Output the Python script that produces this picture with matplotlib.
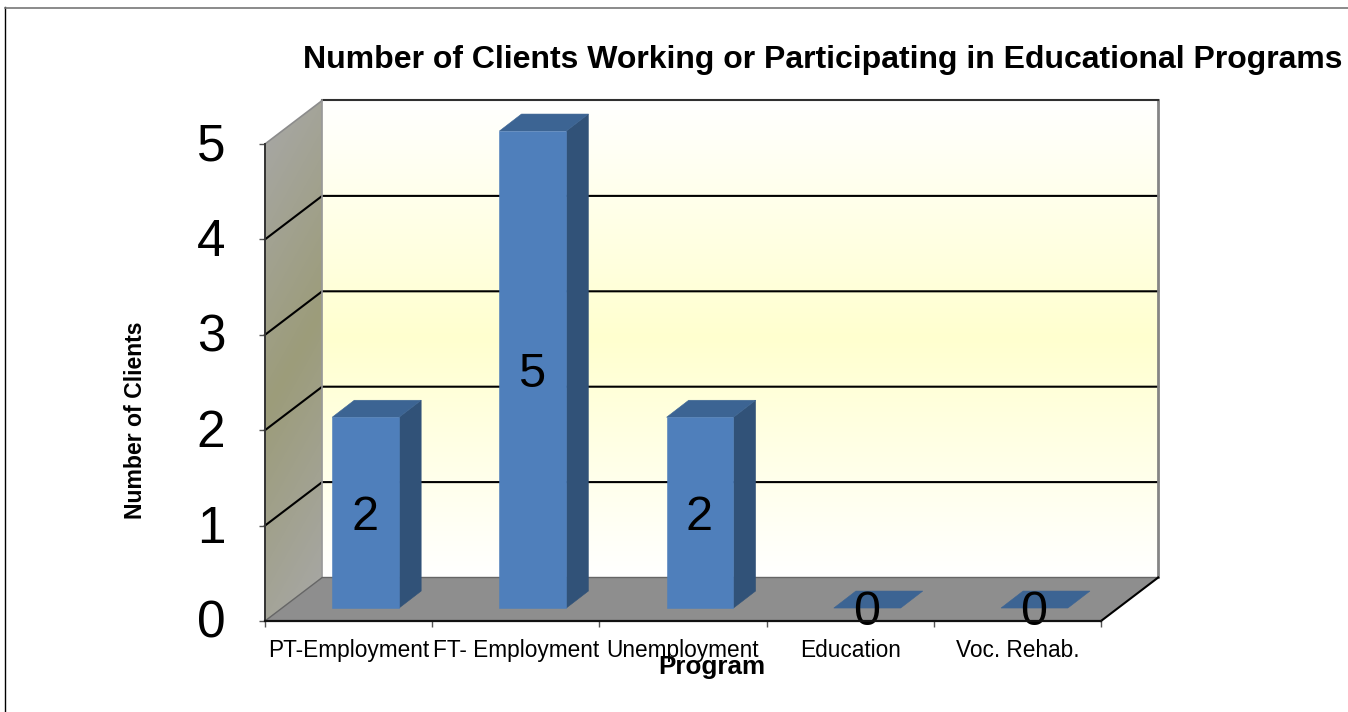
"""
Clients by program, drawn as a column chart with a 3D box look
"""

import numpy as np
import matplotlib.pyplot as plt
from matplotlib.colors import LinearSegmentedColormap
from matplotlib.patches import Polygon
from matplotlib.transforms import ScaledTranslation

programs = ['PT-Employment', 'FT- Employment', 'Unemployment', 'Education', 'Voc. Rehab.']
clients = [2, 5, 2, 0, 0]
y_ticks = [0, 1, 2, 3, 4, 5]

W, H = 1348, 712

# depth of the box and of the columns, in data units
BOX_DX, BOX_DY = 0.342, 0.456
BAR_DX, BAR_DY = 0.132, 0.178
BAR_SHIFT_X, BAR_SHIFT_Y = 0.102, 0.136
BAR_W = 0.40

plt.rcParams['font.family'] = ['Liberation Sans', 'DejaVu Sans']

fig = plt.figure(figsize=(W / 100, H / 100), dpi=100)
ax = fig.add_axes([265 / W, 1 - 621 / H, 836 / W, 477 / H])
ax.set_facecolor('none')


def fill(points, color, z):
    ax.add_patch(Polygon(points, closed=True, facecolor=color, edgecolor=color,
                         linewidth=0.4, zorder=z, clip_on=False))


def gradient(colors, extent, z, clip=None, diagonal=False):
    cmap = LinearSegmentedColormap.from_list('g', colors)
    t = np.linspace(0, 1, 256)
    img = t[:, None]
    if diagonal:
        img = np.add.outer(t, t * 0.2) / 1.2
    im = ax.imshow(img, cmap=cmap, vmin=0, vmax=1, extent=extent, origin='upper',
                   aspect='auto', zorder=z, interpolation='bilinear')
    im.set_clip_on(False)
    if clip is not None:
        # images fall back to the axes box when they have no clip box of their own
        im.set_clip_on(True)
        im.set_clip_box(fig.bbox)
        im.set_clip_path(Polygon(clip, closed=True, transform=ax.transData))


n = len(programs)
top = y_ticks[-1]

# back wall
gradient(['#ffffff', '#ffffcf', '#ffffff'],
         [BOX_DX, n + BOX_DX, BOX_DY, top + BOX_DY], 1)

# left wall
side = [(0, 0), (BOX_DX, BOX_DY), (BOX_DX, top + BOX_DY), (0, top)]
gradient(['#a8a8a8', '#9c9c7a', '#a8a8a8'], [0, BOX_DX, 0, top + BOX_DY], 1,
         clip=side, diagonal=True)

# floor
fill([(0, 0), (n, 0), (n + BOX_DX, BOX_DY), (BOX_DX, BOX_DY)], '#8e8e8e', 2)

# gridlines run along the side wall and then across the back
for v in y_ticks[1:-1]:
    ax.plot([0, BOX_DX, n + BOX_DX], [v, v + BOX_DY, v + BOX_DY], color='black',
            lw=1.5, zorder=3, clip_on=False, solid_joinstyle='miter')

# box outline
ax.plot([0, BOX_DX], [top, top + BOX_DY], color='#8c8c8c', lw=1.2, zorder=3, clip_on=False)
ax.plot([n + BOX_DX, n + BOX_DX], [BOX_DY, top + BOX_DY], color='#858585', lw=2,
        zorder=3, clip_on=False)
ax.plot([BOX_DX, n + BOX_DX], [top + BOX_DY, top + BOX_DY], color='#303030', lw=1.5,
        zorder=3, clip_on=False)
ax.plot([BOX_DX, BOX_DX], [BOX_DY, top + BOX_DY], color='#999999', lw=1.2, zorder=3,
        clip_on=False)
ax.plot([0, BOX_DX, n + BOX_DX], [0, BOX_DY, BOX_DY], color='#666666', lw=1, zorder=3,
        clip_on=False)
ax.plot([n, n + BOX_DX], [0, BOX_DY], color='black', lw=1.5, zorder=3, clip_on=False)

# columns
for i, v in enumerate(clients):
    x0 = i + 0.5 - BAR_W / 2 + BAR_SHIFT_X
    x1 = x0 + BAR_W
    y0 = BAR_SHIFT_Y
    y1 = y0 + v
    if v > 0:
        fill([(x1, y0), (x1 + BAR_DX, y0 + BAR_DY), (x1 + BAR_DX, y1 + BAR_DY), (x1, y1)],
             '#315278', 4)
        fill([(x0, y0), (x1, y0), (x1, y1), (x0, y1)], '#4f7fbb', 5)
    fill([(x0, y1), (x1, y1), (x1 + BAR_DX, y1 + BAR_DY), (x0 + BAR_DX, y1 + BAR_DY)],
         '#3c6493', 4)
    ax.annotate(str(v), ((x0 + x1) / 2, (y0 + y1) / 2), xytext=(-0.7, -3.5),
                textcoords='offset points', ha='center', va='center', fontsize=35,
                color='black', zorder=6, annotation_clip=False)

ax.set_xlim(0, n)
ax.set_ylim(0, top)

for s in ['top', 'right']:
    ax.spines[s].set_visible(False)
for s in ['left', 'bottom']:
    ax.spines[s].set_zorder(7)
ax.spines['left'].set_linewidth(1.4)
ax.spines['left'].set_color('#333333')
ax.spines['bottom'].set_linewidth(1.6)
ax.spines['bottom'].set_color('#111111')

ax.set_yticks(y_ticks)
ax.tick_params(axis='y', labelsize=37, length=4.5, width=1, color='#555555', pad=24)
# nudge the value labels up a little
for label in ax.get_yticklabels():
    label.set_transform(label.get_transform() + ScaledTranslation(0, 1.5 / 72, fig.dpi_scale_trans))
ax.set_xticks(np.arange(n + 1))
ax.set_xticklabels([])
ax.set_xticks(np.arange(n) + 0.5, minor=True)
ax.set_xticklabels(programs, minor=True, fontsize=16.3)
ax.tick_params(axis='x', which='major', length=4.5, width=1, color='#555555')
ax.tick_params(axis='x', which='minor', length=0, pad=13)

fig.text(823 / W, 1 - 60 / H, 'Number of Clients Working or Participating in Educational Programs',
         ha='center', va='center', fontsize=23, fontweight='bold')
fig.text(712 / W, 1 - 667 / H, 'Program', ha='center', va='center', fontsize=18.7, fontweight='bold')
fig.text(135 / W, 1 - 420 / H, 'Number of Clients', ha='center', va='center', rotation=90,
         fontsize=16.6, fontweight='bold')

# outer frame of the chart area, only the top and left edges show
fig.add_artist(plt.Line2D([5 / W, 5 / W], [0, 1 - 7 / H], color='black', lw=1))
fig.add_artist(plt.Line2D([5 / W, 1], [1 - 7.5 / H, 1 - 7.5 / H], color='#777777', lw=1.2))

plt.savefig('out.png', dpi=100)
